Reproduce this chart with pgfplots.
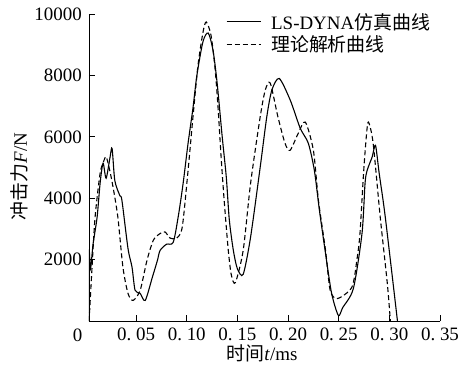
\documentclass[border=0pt]{standalone}
\usepackage{fontspec}
\setmainfont{Liberation Serif}
\newfontfamily\cjk{Noto Sans CJK SC}
\usepackage{pgfplots}
\pgfplotsset{compat=1.18}
\newcommand{\fs}{\fontsize{19}{22}\selectfont}
\begin{document}
\begin{tikzpicture}
\begin{axis}[
  name=ax,
  scale only axis, width=351bp, height=307bp,
  xmin=0.0035, xmax=0.35, ymin=0, ymax=10000,
  scaled x ticks=false, scaled y ticks=false,
  axis x line*=bottom, axis y line*=left,
  tick align=inside, major tick length=6bp,
  axis line style={line width=0.9bp},
  tick style={line width=0.9bp, black},
  xtick={0.05,0.10,0.15,0.20,0.25,0.30,0.35},
  xticklabels={0.\ 05,0.\ 10,0.\ 15,0.\ 20,0.\ 25,0.\ 30,0.\ 35},
  ytick={2000,4000,6000,8000,10000},
  yticklabels={2000,4000,6000,8000,10000},
  every tick label/.append style={font=\fs},
  yticklabel style={inner xsep=0pt, xshift=-7bp},
  xticklabel style={inner ysep=0pt, yshift=-7bp},
  xlabel={{\cjk 时间}\textit{t}/ms},
  ylabel={{\cjk 冲击力}\textit{F}/N},
  every axis x label/.style={at={(axis description cs:0.493,-0.105)}, anchor=center, font=\fs},
  every axis y label/.style={at={(axis description cs:-0.197,0.47)}, anchor=center, rotate=90, font=\fs},
  legend style={at={(axis description cs:0.39,1.01)}, anchor=north west, draw=none, fill=none, font=\fs, row sep=1bp, inner sep=0pt},
  legend cell align=left,
  legend image code/.code={\draw[#1] (0bp,0bp) -- (34bp,0bp); \path (42bp,0bp);},
]
\addplot[black, line width=1.1bp, smooth, tension=0.45] coordinates {
(0.0036,0) (0.0036,2300) (0.0050,1700) (0.0075,2500) (0.0115,3380) (0.0145,4500)
(0.0174,5140) (0.0204,4650) (0.0243,5340) (0.0263,5620) (0.0290,4570) (0.0340,4080)
(0.0360,3930) (0.0420,2360) (0.0460,1750) (0.0490,1000) (0.0540,900) (0.0590,670)
(0.0660,1420) (0.0710,1970) (0.0737,2300) (0.0800,2500) (0.0866,2560) (0.0915,3380)
(0.0964,4480) (0.1013,5790) (0.1060,6900) (0.1100,8000) (0.1160,9100) (0.1212,9380)
(0.1260,8800) (0.1300,7750) (0.1350,6000) (0.1390,4700) (0.1420,3300) (0.1460,2300)
(0.1500,1700) (0.1557,1520) (0.1630,2730) (0.1725,5010) (0.1790,6650) (0.1840,7520)
(0.1913,7900) (0.2022,7190) (0.2120,6280) (0.2200,5790) (0.2260,4900) (0.2310,3600)
(0.2370,2200) (0.2430,900) (0.2497,180) (0.2540,440) (0.2645,1060) (0.2730,2850)
(0.2760,4480) (0.2780,4900) (0.2830,5340) (0.2863,5720) (0.2900,4800) (0.2960,3380)
(0.3080,0)
};
\addlegendentry{LS-DYNA{\cjk 仿真曲线}}
\addplot[black, line width=1.1bp, dash pattern=on 5bp off 3bp, smooth, tension=0.45] coordinates {
(0.0036,0) (0.0065,1750) (0.0095,3380) (0.0144,4800) (0.0174,5140) (0.0204,5350)
(0.0240,4900) (0.0273,4350) (0.0320,3380) (0.0370,1750) (0.0420,900) (0.0470,670)
(0.0540,1000) (0.0607,1970) (0.0670,2630) (0.0737,2850) (0.0786,2900) (0.0836,2700)
(0.0900,2700) (0.0955,3050) (0.1010,4800) (0.1060,6600) (0.1110,8300) (0.1160,9400)
(0.1192,9740) (0.1240,9300) (0.1280,8200) (0.1310,6900) (0.1340,5300) (0.1370,3900)
(0.1410,2300) (0.1440,1500) (0.1480,1250) (0.1557,2300) (0.1630,4480) (0.1725,6650)
(0.1775,7520) (0.1824,7750) (0.1900,6650) (0.1970,5790) (0.2020,5560) (0.2100,6110)
(0.2170,6480) (0.2250,5560) (0.2300,3930) (0.2370,2300) (0.2416,1000) (0.2487,730)
(0.2630,1100) (0.2680,2000) (0.2710,2850) (0.2745,4800) (0.2775,6100) (0.2794,6480)
(0.2840,5790) (0.2910,3380) (0.2980,1220) (0.3010,0)
};
\addlegendentry{{\cjk 理论解析曲线}}
\end{axis}
\node[font=\fs, anchor=center] at ([xshift=-11.5bp, yshift=-14bp]ax.south west) {0};
\pgfresetboundingbox
\path (-89bp,-57bp) rectangle (376bp,321bp);
\end{tikzpicture}
\end{document}
